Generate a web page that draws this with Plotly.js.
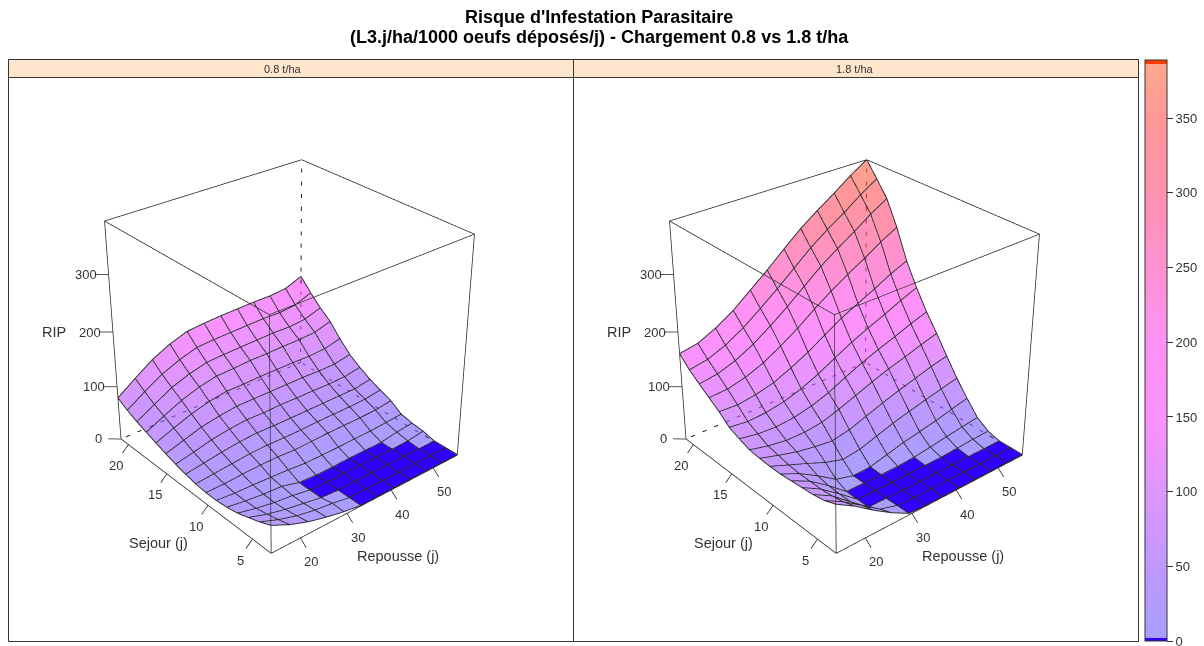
<!DOCTYPE html>
<html><head><meta charset="utf-8">
<script src="https://cdn.plot.ly/plotly-3.0.1.min.js"></script>
<style>html,body{margin:0;padding:0;background:#fff;overflow:hidden;width:1204px;height:646px}
#plot{position:absolute;left:0;top:-192px;width:1204px;height:1069px}</style></head>
<body><div id="plot"></div>
<script>
const repousse=[14,17.8,21.6,25.5,29.3,33.1,36.9,40.7,44.5,48.4,52.2,56];
const sejour=[3,4.2,5.4,6.6,7.8,9,10.2,11.4,12.6,13.8,15,16.2,17.4,18.6,19.8,21];
const rip08=[
[49,33,21,12,5,0,0,0,0,0,0,0],
[40,27,17,10,6,0,0,0,0,0,0,0],
[33,22,14,8,2,0,0,0,0,0,0,0],
[26,18,12,8,2,1,1,1,1,1,2,6],
[22,17,13,11,2,0,0,1,1,1,6,9],
[20,17,16,14,12,9,9,9,10,10,12,14],
[20,20,22,23,23,21,22,23,23,23,24,28],
[22,25,28,31,32,31,31,32,32,32,33,37],
[26,31,36,40,42,41,41,41,41,41,41,46],
[31,38,46,51,54,53,54,53,53,52,53,58],
[37,47,57,63,67,67,67,67,67,66,66,72],
[44,57,69,78,83,83,84,84,84,83,85,92],
[51,67,82,93,100,101,103,103,104,104,106,115],
[58,76,94,106,114,116,117,118,119,118,121,131],
[67,88,107,121,131,133,134,135,136,135,138,150],
[78,101,123,139,150,153,155,156,157,157,160,172]];
const rip18=[
[86,66,42,20,2,0,0,0,0,0,0,0],
[78,59,36,12,2,0,0,0,0,0,0,0],
[74,55,28,1,1,0,0,0,0,0,0,0],
[72,53,28,1,1,0,0,1,1,3,5,6],
[70,53,29,1,1,1,1,3,7,12,16,20],
[68,53,33,10,1,2,10,18,24,30,38,45],
[68,55,42,28,18,22,32,42,50,58,65,72],
[69,59,50,44,40,46,57,68,78,87,96,103],
[71,63,58,58,62,72,84,96,107,116,126,135],
[78,72,70,73,80,91,106,120,132,143,155,165],
[86,82,84,90,100,114,131,147,161,174,188,200],
[102,100,105,113,127,143,162,181,196,211,227,240],
[115,117,125,138,156,176,199,220,239,257,276,292],
[128,133,144,161,182,205,230,255,276,296,317,335],
[142,148,161,180,203,227,253,279,301,321,343,362],
[160,166,181,201,226,251,278,304,326,347,369,388]];
const zMax=389, blueBelow=1.5, lift=1.2;
const rampZ=[0,50,100,150,200,250,300,350,389];
const rampC=[[168,158,255],[192,152,255],[222,150,255],[250,146,255],[255,146,245],[255,146,210],[255,146,175],[255,152,150],[255,170,140]];
const xTicks=[20,30,40,50], yTicks=[5,10,15,20], zTicks=[0,100,200,300], barTicks=[0,50,100,150,200,250,300,350];
const alpha=0.6;

function ramp(z){let k=0;while(k<rampZ.length-2&&z>rampZ[k+1])k++;
  const t=Math.min(1,(z-rampZ[k])/(rampZ[k+1]-rampZ[k]));
  return rampC[k].map((c,n)=>c+(rampC[k+1][n]-c)*t);}
function solid(c){return 'rgb('+c.map(v=>Math.round(Math.max(0,(v-255*(1-alpha))/alpha))).join(',')+')';}
const H=1069,W=1204,T=192;
const px=x=>x/W, py=y=>1-(y+T)/H;

function meshFor(m,scene){
  const X=[],Y=[],Z=[];
  m.forEach((r,j)=>r.forEach((v,i)=>{X.push(repousse[i]);Y.push(sejour[j]);Z.push(v);}));
  const nx=repousse.length, I=[[],[]],J=[[],[]],K=[[],[]],F=[[],[]];
  for(let j=0;j<m.length-1;j++)for(let i=0;i<nx-1;i++){
    const a=j*nx+i,b=a+1,c=a+nx,d=c+1, mean=(Z[a]+Z[b]+Z[c]+Z[d])/4;
    const g=mean<blueBelow?1:0, col=g?'rgb(50,0,255)':solid(ramp(mean));
    I[g].push(a,a);J[g].push(b,d);K[g].push(d,c);F[g].push(col,col);
  }
  const lit={ambient:1,diffuse:0,specular:0,roughness:1,fresnel:0};
  return [0,1].map(g=>({type:'mesh3d',scene,x:X,y:Y,z:Z,i:I[g],j:J[g],k:K[g],facecolor:F[g],flatshading:true,
    opacity:g?1:alpha,lighting:lit,hoverinfo:'skip',showscale:false}));
}
function wire(m,scene){
  const x=[],y=[],z=[];
  m.forEach((r,j)=>{r.forEach((v,i)=>{x.push(repousse[i]);y.push(sejour[j]);z.push(v+lift);});x.push(null);y.push(null);z.push(null);});
  repousse.forEach((q,i)=>{m.forEach((r,j)=>{x.push(q);y.push(sejour[j]);z.push(r[i]+lift);});x.push(null);y.push(null);z.push(null);});
  return {type:'scatter3d',scene,mode:'lines',x,y,z,line:{color:'#2a2a2a',width:2},hoverinfo:'skip',showlegend:false};
}
const x0=repousse[0],x1=repousse[repousse.length-1],y0=sejour[0],y1=sejour[sejour.length-1];
const sx=x1-x0,sy=y1-y0;
function segs(list,scene,dash){
  const x=[],y=[],z=[];
  list.forEach(s=>{x.push(s[0],s[3],null);y.push(s[1],s[4],null);z.push(s[2],s[5],null);});
  return {type:'scatter3d',scene,mode:'lines',x,y,z,line:{color:'#222',width:dash?2:1.5,dash:dash||'solid'},hoverinfo:'skip',showlegend:false};
}
function box(scene){
  const sol=[[x0,y0,0,x1,y0,0],[x0,y0,0,x0,y1,0],[x0,y0,0,x0,y0,zMax],[x0,y1,0,x0,y1,zMax],[x1,y0,0,x1,y0,zMax],
    [x0,y0,zMax,x1,y0,zMax],[x0,y0,zMax,x0,y1,zMax],[x1,y1,zMax,x1,y0,zMax],[x1,y1,zMax,x0,y1,zMax]];
  xTicks.forEach(t=>sol.push([t,y0,0,t,y0-.034*sy,-.026*zMax]));
  yTicks.forEach(t=>sol.push([x0,t,0,x0-.032*sx,t,-.029*zMax]));
  zTicks.forEach(t=>sol.push([x0,y1,t,x0-.041*sx,y1+.035*sy,t]));
  const das=[[x1,y1,0,x0,y1,0],[x1,y1,0,x1,y0,0],[x1,y1,0,x1,y1,zMax]];
  return [segs(sol,scene),segs(das,scene,'dash')];
}
const txt={family:'Liberation Sans',size:13,color:'#333'};
function scene(left){
  const k=1.2,pad=0.1,zk=k*1.005;
  const ann=[];
  xTicks.forEach(t=>ann.push({x:t,y:y0,z:0,text:String(t),showarrow:false,font:txt,xshift:11,yshift:-24}));
  yTicks.forEach(t=>ann.push({x:x0,y:t,z:0,text:String(t),showarrow:false,font:txt,xshift:-12,yshift:-21}));
  zTicks.forEach(t=>ann.push({x:x0,y:y1,z:t,text:String(t),showarrow:false,font:txt,xshift:-23,yshift:0}));
  return {domain:{x:[px(left),px(left+565)],y:[0,1]},bgcolor:'rgba(0,0,0,0)',
    xaxis:{visible:false,range:[x0-pad*sx,x1+pad*sx]},yaxis:{visible:false,range:[y0-pad*sy,y1+pad*sy]},
    zaxis:{visible:false,range:[-pad*zMax,zMax*(1+pad)]},
    aspectmode:'manual',aspectratio:{x:k,y:k,z:zk},
    camera:{eye:{x:-2.897,y:-3.443,z:2.53},center:{x:0,y:0,z:0},up:{x:0,y:0,z:1},projection:{type:'perspective'}},
    annotations:ann};
}
const frac=v=>v/zMax;
const barScale=[[0,'rgb(50,0,255)'],[frac(2),'rgb(50,0,255)']];
rampZ.forEach((z,n)=>{if(z>=386)return;const zz=Math.max(z,2);barScale.push([frac(zz),'rgb('+rampC[n].join(',')+')']);});
barScale.push([frac(386),'rgb(255,168,142)'],[frac(386),'rgb(255,60,0)'],[1,'rgb(255,60,0)']);
const barTrace={type:'scatter3d',scene:'scene',mode:'markers',x:[x0,x0],y:[y0,y0],z:[0,0],hoverinfo:'skip',showlegend:false,
  marker:{size:0.01,opacity:0,color:[0,zMax],cmin:0,cmax:zMax,colorscale:barScale,showscale:true,
    colorbar:{x:px(1145),xanchor:'left',xpad:0,ypad:0,y:py(641),yanchor:'bottom',lenmode:'pixels',len:581,thicknessmode:'pixels',thickness:22,
      tickmode:'array',tickvals:barTicks,ticks:'outside',ticklen:6,tickwidth:1,tickcolor:'#333',tickfont:txt,outlinecolor:'#333',outlinewidth:1,borderwidth:0}}};
const data=[...meshFor(rip08,'scene'),wire(rip08,'scene'),...box('scene'),
  ...meshFor(rip18,'scene2'),wire(rip18,'scene2'),...box('scene2'),barTrace];
const ln={color:'#333',width:1};
const rect=(a,b,c,d,fill)=>({type:'rect',xref:'paper',yref:'paper',x0:px(a),x1:px(b),y0:py(c),y1:py(d),line:ln,fillcolor:fill||'rgba(0,0,0,0)',layer:'below'});
const shapes=[rect(8.5,573.5,59.5,77.5,'#ffe5cc'),rect(573.5,1138.5,59.5,77.5,'#ffe5cc'),rect(8.5,573.5,77.5,641.5),rect(573.5,1138.5,77.5,641.5)];
const note=(x,y,text,font)=>({xref:'paper',yref:'paper',x:px(x),y:py(y),text,showarrow:false,font:font||txt,xanchor:'center',yanchor:'middle'});
const bold={family:'Liberation Sans',size:18,color:'#000'};
const annotations=[note(599,17,"<b>Risque d'Infestation Parasitaire</b>",bold),
  note(599,37,"<b>(L3.j/ha/1000 oeufs déposés/j) - Chargement 0.8 vs 1.8 t/ha</b>",bold),
  note(283,69,'0.8 t/ha',{...txt,size:11}),note(855,69,'1.8 t/ha',{...txt,size:11})];
[0,565].forEach(d=>{annotations.push(note(54+d,332,'RIP',{...txt,size:14.5}),note(158+d,543,'Sejour (j)',{...txt,size:14.5}),note(398+d,556,'Repousse (j)',{...txt,size:14.5}));});
Plotly.newPlot('plot',data,{width:W,height:H,margin:{l:0,r:0,t:0,b:0},paper_bgcolor:'#fff',showlegend:false,
  scene:scene(5),scene2:scene(570),shapes,annotations},{displayModeBar:false});
</script></body></html>
